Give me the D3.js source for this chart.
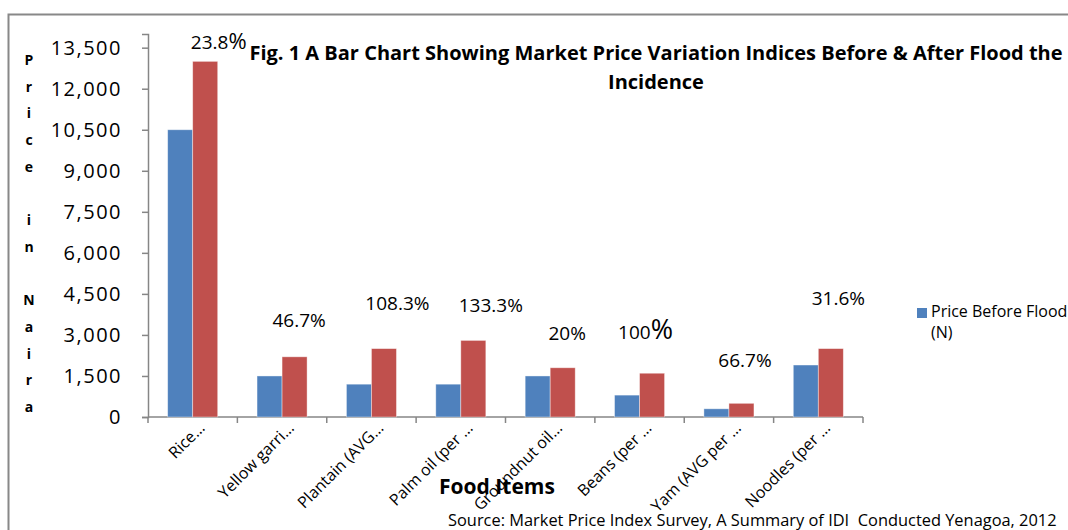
<!DOCTYPE html>
<html>
<head>
<meta charset="utf-8">
<script src="https://cdn.jsdelivr.net/npm/d3@7/dist/d3.min.js"></script>
<style>
      body { margin: 0; background: #fff; }
      svg text { font-family: "Open Sans", sans-serif; fill: #000; white-space: pre; }
</style>
</head>
<body>
<script>
// values
const foodItems = ["Rice…", "Yellow garri…", "Plantain (AVG…", "Palm oil (per …", "Groundnut oil…", "Beans (per …", "Yam (AVG per …", "Noodles (per …"];
const priceBefore = [10500, 1500, 1200, 1200, 1500, 800, 300, 1900];
const priceAfter = [13000, 2200, 2500, 2800, 1800, 1600, 500, 2500];
const yTicks = [0, 1500, 3000, 4500, 6000, 7500, 9000, 10500, 12000, 13500];
const seriesKeys = ["before", "after"];
const legendLines = ["Price Before Flood", "(N)"];
const titleLines = ["Fig. 1 A Bar Chart Showing Market Price Variation Indices Before & After Flood the", "Incidence"];
const yTitle = "Price in Naira";
const xTitle = "Food Items";
const sourceNote = "Source: Market Price Index Survey, A Summary of IDI  Conducted Yenagoa, 2012";

const width = 1068;
const height = 530;
const margin = {top: 34, right: 205, bottom: 113, left: 148};
const plotW = width - margin.left - margin.right;
const plotH = height - margin.top - margin.bottom;
const colors = {before: "#4f81bd", after: "#c0504d"};

// the labels were hand placed in the original, so nudge each one
const labelNudge = [[26, -12], [17, -30], [26, -39], [30, -28], [17, -28], [6, -34], [16, -36], [20, -44]];
const bigPercent = [0, 5];

const data = foodItems.map((name, i) => ({name: name, before: priceBefore[i], after: priceAfter[i]}));

const svg = d3.select("body")
      .append("svg")
      .attr("width", width)
      .attr("height", height);

// frame of the original figure
svg.append("path")
      .attr("d", `M8.5,${height} V14.5 H${width}`)
      .attr("fill", "none")
      .attr("stroke", "#888")
      .attr("stroke-width", 2);

const chart = svg.append("g")
      .attr("transform", `translate(${margin.left}, ${margin.top})`);

const x0 = d3.scaleBand()
      .domain(foodItems)
      .range([0, plotW])
      .paddingInner(0.44)
      .paddingOuter(0.22);

const x1 = d3.scaleBand()
      .domain(seriesKeys)
      .range([0, x0.bandwidth()]);

const yScale = d3.scaleLinear()
      .domain([0, 14000])
      .range([plotH, 0]);

// y axis
const yAxis = chart.append("g")
      .call(d3.axisLeft(yScale)
            .tickValues(yTicks)
            .tickFormat(d3.format(","))
            .tickSize(6)
            .tickPadding(20));
yAxis.select(".domain").attr("stroke", "#868686").attr("stroke-width", 1.5);
yAxis.selectAll(".tick line").attr("stroke", "#868686").attr("stroke-width", 1.5);
yAxis.selectAll(".tick text")
      .style("font-size", "20px")
      .style("letter-spacing", "1.5px")
      .attr("fill", "#000");

// x axis, ticks sit on the category edges
const edges = d3.range(foodItems.length + 1).map(i => i * plotW / foodItems.length);
const xAxis = chart.append("g")
      .attr("transform", `translate(0, ${plotH})`);
xAxis.append("line")
      .attr("x1", 0).attr("x2", plotW)
      .attr("stroke", "#868686").attr("stroke-width", 1.5);
xAxis.selectAll(".edge")
      .data(edges)
      .enter()
      .append("line")
      .attr("x1", d => d).attr("x2", d => d)
      .attr("y1", 0).attr("y2", 6)
      .attr("stroke", "#868686").attr("stroke-width", 1.5);

xAxis.selectAll(".cat")
      .data(foodItems)
      .enter()
      .append("text")
      .attr("transform", d => `translate(${x0(d) + x0.bandwidth() / 2 + 13}, 12) rotate(-45)`)
      .attr("text-anchor", "end")
      .style("font-size", "16px")
      .text(d => d);

// bars
const groups = chart.selectAll(".group")
      .data(data)
      .enter()
      .append("g")
      .attr("transform", d => `translate(${x0(d.name)}, 0)`);

groups.selectAll("rect")
      .data(d => seriesKeys.map(key => ({key: key, value: d[key]})))
      .enter()
      .append("rect")
      .attr("x", d => x1(d.key))
      .attr("width", x1.bandwidth())
      .attr("y", d => yScale(d.value))
      .attr("height", d => plotH - yScale(d.value))
      .attr("fill", d => colors[d.key])
      .attr("stroke", "#fff")
      .attr("stroke-opacity", 0.5)
      .attr("stroke-width", 0.8);

// percentage change labels
const pct = d3.format(".1~f");
const labels = chart.selectAll(".pct")
      .data(data)
      .enter()
      .append("text")
      .attr("x", (d, i) => x0(d.name) + x0.bandwidth() / 2 + labelNudge[i][0])
      .attr("y", (d, i) => yScale(d.after) + labelNudge[i][1])
      .attr("text-anchor", "middle")
      .style("font-size", "19px")
      .text(d => pct((d.after - d.before) / d.before * 100));
labels.append("tspan")
      .style("font-size", (d, i) => bigPercent.includes(i) ? (i === 0 ? "22px" : "27px") : "19px")
      .text("%");

// titles
const title = svg.append("text")
      .attr("text-anchor", "middle")
      .style("font-size", "20px")
      .style("font-weight", "bold");
title.selectAll("tspan")
      .data(titleLines)
      .enter()
      .append("tspan")
      .attr("x", 656)
      .attr("y", (d, i) => 60 + i * 29)
      .text(d => d);

svg.append("g")
      .selectAll("text")
      .data(yTitle.split(""))
      .enter()
      .append("text")
      .attr("x", 29)
      .attr("y", (d, i) => 65 + i * 26.7)
      .attr("text-anchor", "middle")
      .style("font-size", "14px")
      .style("font-weight", "bold")
      .text(d => d);

svg.append("text")
      .attr("x", 497)
      .attr("y", 494)
      .attr("text-anchor", "middle")
      .style("font-size", "21px")
      .style("font-weight", "bold")
      .text(xTitle);

svg.append("text")
      .attr("x", 448)
      .attr("y", 526)
      .style("font-size", "16.4px")
      .text(sourceNote);

// legend, cut by the right edge like the original
const legend = svg.append("g")
      .attr("transform", `translate(${margin.left + plotW + 54}, 308)`);
legend.append("rect")
      .attr("width", 10).attr("height", 10)
      .attr("fill", colors.before);
legend.selectAll("text")
      .data(legendLines)
      .enter()
      .append("text")
      .attr("x", 14)
      .attr("y", (d, i) => 9 + i * 21)
      .style("font-size", "16px")
      .text(d => d);
</script>
</body>
</html>
